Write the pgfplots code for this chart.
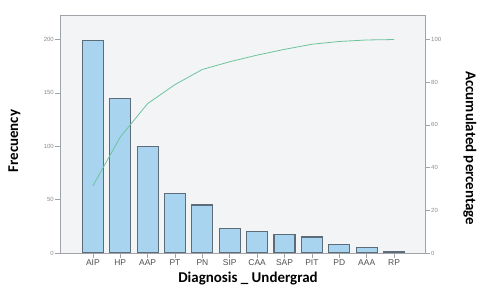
\documentclass[border=0pt]{standalone}
\usepackage{fontspec}
\setmainfont{Carlito}
\newfontfamily\tickfont{Liberation Sans}
\usepackage{pgfplots}
\pgfplotsset{compat=1.18}
\definecolor{barfill}{HTML}{A8D4F0}
\definecolor{barline}{HTML}{5C6C78}
\definecolor{bg}{HTML}{F3F4F6}
\definecolor{frame}{HTML}{A0A4A8}
\definecolor{cum}{HTML}{6CC49C}
\definecolor{tick}{HTML}{8A8A8A}
\definecolor{xtick}{HTML}{505050}
\begin{document}
\begin{tikzpicture}
\useasboundingbox (-60bp,-44bp) rectangle (432bp,253bp);
\begin{axis}[
  scale only axis, width=365bp, height=238bp,
  xmin=-1.2, xmax=12.13, ymin=0, ymax=223,
  axis background/.style={fill=bg},
  axis line style={frame, line width=0.8pt},
  xtick={0,...,11},
  xticklabels={AIP,HP,AAP,PT,PN,SIP,CAA,SAP,PIT,PD,AAA,RP},
  ytick={0,50,100,150,200},
  xtick pos=bottom, ytick pos=left, tick align=outside,
  major tick length=5bp,
  tick style={frame, line width=0.6pt},
  /pgf/number format/assume math mode=true,
  yticklabel style={font=\tickfont\fontsize{6}{7}\selectfont, text=tick, inner sep=1pt},
  xticklabel style={font=\tickfont\fontsize{8.5}{9}\selectfont, text=xtick, inner sep=1pt},
  xlabel={Diagnosis \_ Undergrad},
  ylabel={Frecuency},
  xlabel style={font=\bfseries\fontsize{15}{17}\selectfont, at={(rel axis cs:0.515,-0.108)}, anchor=center},
  ylabel style={font=\bfseries\fontsize{15}{17}\selectfont, at={(rel axis cs:-0.125,0.47)}, anchor=center},
]
\addplot[ybar, bar width=21bp, fill=barfill, draw=barline, line width=1.1pt] coordinates {
  (0,199) (1,145) (2,100) (3,56) (4,45) (5,23) (6,20) (7,17) (8,15) (9,8) (10,5) (11,1)
};
\end{axis}
\begin{axis}[
  scale only axis, width=365bp, height=238bp,
  xmin=-1.2, xmax=12.13, ymin=0, ymax=111.5,
  axis x line=none, axis y line*=right,
  axis line style={frame, line width=0.8pt},
  ytick={0,20,40,60,80,100},
  tick align=outside, major tick length=5bp,
  tick style={frame, line width=0.6pt},
  /pgf/number format/assume math mode=true,
  yticklabel style={font=\tickfont\fontsize{6}{7}\selectfont, text=tick, inner sep=1pt},
  ylabel={Accumulated percentage},
  ylabel style={font=\bfseries\fontsize{15}{17}\selectfont, at={(rel axis cs:1.123,0.44)}, anchor=center, rotate=180},
]
\addplot[cum, line width=0.8pt] coordinates {
  (0,31.4) (1,54.3) (2,70.0) (3,78.9) (4,86.0) (5,89.6) (6,92.7) (7,95.4) (8,97.8) (9,99.1) (10,99.8) (11,100)
};
\end{axis}
\end{tikzpicture}
\end{document}
